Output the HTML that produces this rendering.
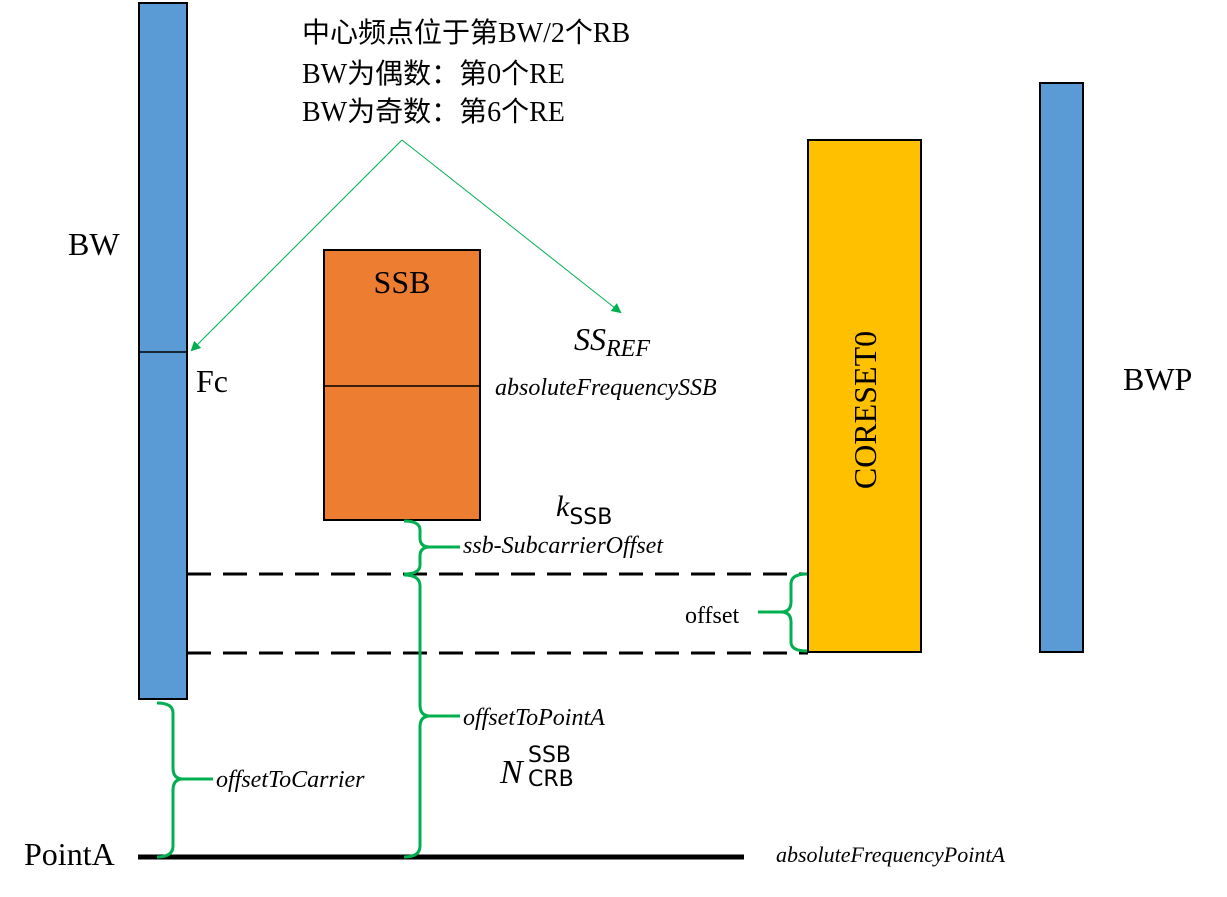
<!DOCTYPE html>
<html><head><meta charset="utf-8"><style>
html,body{margin:0;padding:0;background:#fff;}
svg{display:block;}
text{font-family:"Liberation Serif","Noto Serif CJK SC","Noto Sans CJK SC",serif;fill:#000;}
.cj{font-family:"Liberation Serif","Noto Sans CJK SC",serif;}
.it{font-style:italic;}
.ss{font-family:"DejaVu Sans","Liberation Sans",sans-serif;}
</style></head><body>
<svg width="1227" height="897" viewBox="0 0 1227 897" xmlns="http://www.w3.org/2000/svg">
<defs>
<marker id="ah" markerWidth="10" markerHeight="10" refX="8" refY="5" orient="auto" markerUnits="userSpaceOnUse">
<path d="M0,0 L10,5 L0,10 z" fill="#00B050"/>
</marker>
</defs>
<!-- BW bar -->
<rect x="139" y="3" width="48" height="696" fill="#5B9BD5" stroke="#000" stroke-width="2"/>
<line x1="139" y1="352" x2="187" y2="352" stroke="#000" stroke-width="1.5"/>
<!-- SSB -->
<rect x="324" y="250" width="156" height="270" fill="#ED7D31" stroke="#000" stroke-width="2"/>
<line x1="324" y1="386" x2="480" y2="386" stroke="#000" stroke-width="1.5"/>
<!-- CORESET0 -->
<rect x="808" y="140" width="113" height="512" fill="#FFC000" stroke="#000" stroke-width="2"/>
<text x="0" y="0" font-size="32" text-anchor="middle" transform="translate(876,410) rotate(-90)">CORESET0</text>
<!-- BWP -->
<rect x="1040" y="83" width="43" height="569" fill="#5B9BD5" stroke="#000" stroke-width="2"/>
<!-- dashed -->
<line x1="187" y1="574" x2="808" y2="574" stroke="#000" stroke-width="3" stroke-dasharray="24,12"/>
<line x1="187" y1="653" x2="808" y2="653" stroke="#000" stroke-width="3" stroke-dasharray="24,12"/>
<!-- PointA line -->
<line x1="138" y1="857" x2="744" y2="857" stroke="#000" stroke-width="5"/>
<!-- arrows -->
<line x1="402" y1="140" x2="192" y2="350" stroke="#00B050" stroke-width="1" marker-end="url(#ah)"/>
<line x1="402" y1="140" x2="620" y2="312" stroke="#00B050" stroke-width="1" marker-end="url(#ah)"/>
<!-- braces -->
<g fill="none" stroke="#00B050" stroke-width="3">
<path d="M404,521 Q420,521 420,530 L420,538 Q420,547 430,547 L460,547 M430,547 Q420,547 420,556 L420,565 Q420,574 404,574"/>
<path d="M404,575 Q420,575 420,586 L420,705 Q420,716 430,716 L460,716 M430,716 Q420,716 420,727 L420,846 Q420,857 404,857"/>
<path d="M157,703 Q173,703 173,713 L173,768 Q173,779 183,779 L213,779 M183,779 Q173,779 173,790 L173,846 Q173,857 157,857"/>
<path d="M807,574 Q791,574 791,584 L791,602 Q791,612 781,612 L758,612 M781,612 Q791,612 791,622 L791,642 Q791,651 807,651"/>
</g>
<!-- texts -->
<text class="cj" x="302" y="42" font-size="28">中心频点位于第BW/2个RB</text>
<text class="cj" x="302" y="83" font-size="28">BW为偶数：第0个RE</text>
<text class="cj" x="302" y="121" font-size="28">BW为奇数：第6个RE</text>
<text x="68" y="255" font-size="32">BW</text>
<text x="196" y="392" font-size="32">Fc</text>
<text x="402" y="293" font-size="32" text-anchor="middle">SSB</text>
<text class="it" x="574" y="350" font-size="32">SS<tspan font-size="24" dy="6">REF</tspan></text>
<text class="it" x="495" y="395" font-size="24">absoluteFrequencySSB</text>
<text class="it" x="556" y="516" font-size="30">k<tspan class="ss" font-style="normal" font-size="22" dy="8">SSB</tspan></text>
<text class="it" x="463" y="553" font-size="24">ssb-SubcarrierOffset</text>
<text x="685" y="623" font-size="24">offset</text>
<text class="it" x="463" y="725" font-size="24">offsetToPointA</text>
<text class="it" x="500" y="783" font-size="34">N</text>
<text class="ss" x="528" y="762" font-size="22">SSB</text>
<text class="ss" x="528" y="786" font-size="22">CRB</text>
<text class="it" x="216" y="787" font-size="24">offsetToCarrier</text>
<text x="24" y="865" font-size="32">PointA</text>
<text class="it" x="776" y="862" font-size="22">absoluteFrequencyPointA</text>
<text x="1123" y="390" font-size="32">BWP</text>
</svg>
</body></html>
